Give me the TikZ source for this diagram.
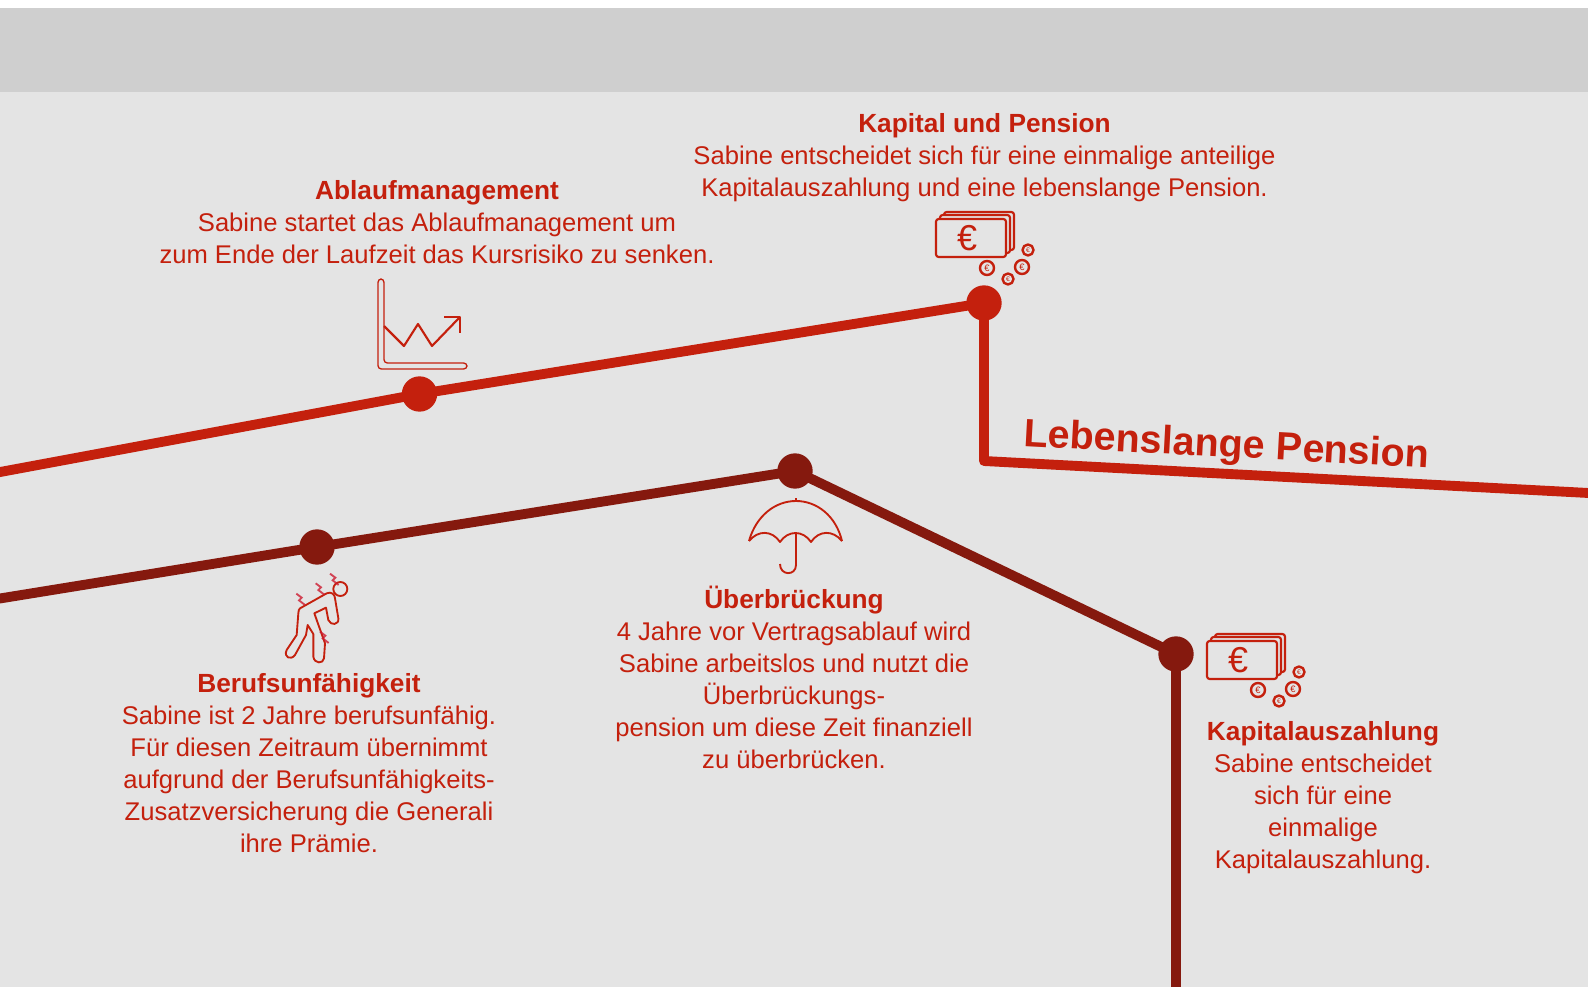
\documentclass[tikz,border=0pt]{standalone}
\usepackage{fontspec}
\setmainfont{Liberation Sans}
\usetikzlibrary{backgrounds}
\definecolor{brightred}{HTML}{C4200D}
\definecolor{darkred}{HTML}{85190E}
\definecolor{bandgrey}{HTML}{CFCFCF}
\definecolor{pagegrey}{HTML}{E4E4E4}
\newcommand{\headline}[1]{{\fontsize{19.7}{24}\selectfont\bfseries #1}}
\tikzset{
  bright/.style={draw=brightred,line width=7.4pt,line join=round},
  dark/.style={draw=darkred,line width=7.4pt,line join=round},
  brightdot/.style={circle,fill=brightred,minimum size=26.5pt,inner sep=0pt},
  darkdot/.style={circle,fill=darkred,minimum size=26.5pt,inner sep=0pt},
  infotext/.style={align=center,text=brightred,font=\fontsize{19.2}{24}\selectfont,inner sep=0pt},
  icon/.style={draw=brightred,line width=1.4pt,line join=round},
  money/.pic={
    \draw[icon,line width=1.6pt,fill=pagegrey,rounded corners=2pt] (8,-7) rectangle (78,31);
    \draw[icon,line width=1.6pt,fill=pagegrey,rounded corners=2pt] (4,-4) rectangle (74,34);
    \draw[icon,line width=1.6pt,fill=pagegrey,rounded corners=2pt] (0,0) rectangle (70,38);
    \node[text=brightred,font=\fontsize{27}{27}\selectfont,inner sep=0pt] (-euro) at (31,19) {€};
    \foreach \cx/\cy/\cr/\cs in {51/49/7/7,86/48/7/7,72/60/5.5/5,92/31/5.5/5}{
      \draw[icon,line width=1.8pt] (\cx,\cy) circle (\cr);
      \node[text=brightred,font=\fontsize{\cs}{\cs}\selectfont,inner sep=0pt] at (\cx,\cy) {€};
    }
  }
}
\begin{document}
\begin{tikzpicture}[x=0.75pt,y=-0.75pt]
    \useasboundingbox (0,0) rectangle (1588,987);

    % free ends and corners
    \coordinate (BrightStart) at (-10,473.9);
    \coordinate (BrightCorner) at (984,461);
    \coordinate (BrightEnd) at (1598,493.5);
    \coordinate (DarkStart) at (-10,600.1);
    \coordinate (DarkEnd) at (1176,997);

    \node[brightdot] (Ablauf) at (419.5,394) {};
    \node[brightdot] (Kapital) at (984,303) {};
    \node[darkdot] (Beruf) at (317,547) {};
    \node[darkdot] (Bruecke) at (795,471) {};
    \node[darkdot] (Auszahlung) at (1176,654) {};

    \begin{scope}[on background layer]
    \fill[white] (0,0) rectangle (1588,987);
    \fill[pagegrey] (0,92) rectangle (1588,987);
    \fill[bandgrey] (0,8) rectangle (1588,92);
    \draw[bright] (BrightStart)--(Ablauf.center)--(Kapital.center);
    \draw[bright] (Kapital.center)--(BrightCorner)--(BrightEnd);
    \draw[dark] (DarkStart)--(Beruf.center)--(Bruecke.center)--(Auszahlung.center)--(DarkEnd);
    \end{scope}

    \node[text=brightred,rotate=-3.1,inner sep=0pt,font=\fontsize{29.6}{30}\selectfont\bfseries] (Lebenslang) at (1227,447) {Lebenslange Pension};

    \node[infotext] (KapitalText) at (984.5,157.5) {\headline{Kapital und Pension}\\Sabine entscheidet sich für eine einmalige anteilige\\Kapitalauszahlung und eine lebenslange Pension.};
    \node[infotext] (AblaufText) at (437,222) {\headline{Ablaufmanagement}\\Sabine startet das Ablaufmanagement um\\zum Ende der Laufzeit das Kursrisiko zu senken.};
    \node[infotext] (BerufText) at (309,763.2) {\headline{Berufsunfähigkeit}\\Sabine ist 2 Jahre berufsunfähig.\\Für diesen Zeitraum übernimmt\\aufgrund der Berufsunfähigkeits-\\Zusatzversicherung die Generali\\ihre Prämie.};
    \node[infotext] (BrueckeText) at (794,677) {\headline{Überbrückung}\\4 Jahre vor Vertragsablauf wird\\Sabine arbeitslos und nutzt die\\Überbrückungs-\\pension um diese Zeit finanziell\\zu überbrücken.};
    \node[infotext] (AuszahlungText) at (1323,798) {\headline{Kapitalauszahlung}\\Sabine entscheidet\\sich für eine\\einmalige\\Kapitalauszahlung.};

    % money icons
    \pic (MoneyTop) at (936,219) {money};
    \pic (MoneyBottom) at (1207,641) {money};

    % chart icon
    \draw[icon,line width=1pt,rounded corners=2.5pt] (384,326)--(384,279)--(378,279)--(378,369)--(467,369)--(467,363)--(384,363)--cycle;
    \draw[icon,line width=1.6pt] (384,326)--(404,346)--(418,324)--(432,346)--(460,317);
    \draw[icon,line width=1.6pt] (444,317)--(460,317)--(460,333);

    % umbrella icon
    \draw[icon] (749,541) .. controls (756,516) and (775,501) .. (796,501) .. controls (817,501) and (836,516) .. (842,541);
    \draw[icon] (749,541) .. controls (758,530) and (772,530) .. (780,542) .. controls (788,530) and (803,530) .. (811,542) .. controls (819,530) and (833,530) .. (842,541);
    \draw[icon] (796,498)--(796,501);
    \draw[icon] (796,533)--(796,565) .. controls (796,576) and (780,576) .. (780,564);

    % person icon
    \begin{scope}[shift={(270,560)},x=0.25pt,y=-0.25pt]
    \draw[icon] (90,145)--(170,100) .. controls (185,93) and (195,105) .. (195,115)--(205,175) .. controls (208,195) and (182,198) .. (175,180)--(168,143)--(133,160)--(165,250)--(162,295) .. controls (160,312) and (133,312) .. (130,290)--(130,222)--(113,195)--(108,225)--(75,285) .. controls (62,302) and (40,292) .. (50,270)--(80,225)--(85,160) .. controls (85,152) and (87,148) .. (90,145)--cycle;
    \draw[icon] (211,87) circle (21);
    \foreach \bx/\by in {92/118,150/87,193/58,163/232}{
      \draw[draw=brightred!85!magenta,line width=1.4pt,opacity=.8] (\bx-13,\by-17)--(\bx+3,\by-5)--(\bx-5,\by+3)--(\bx+13,\by+17);
    }
    \end{scope}
\end{tikzpicture}
\end{document}
